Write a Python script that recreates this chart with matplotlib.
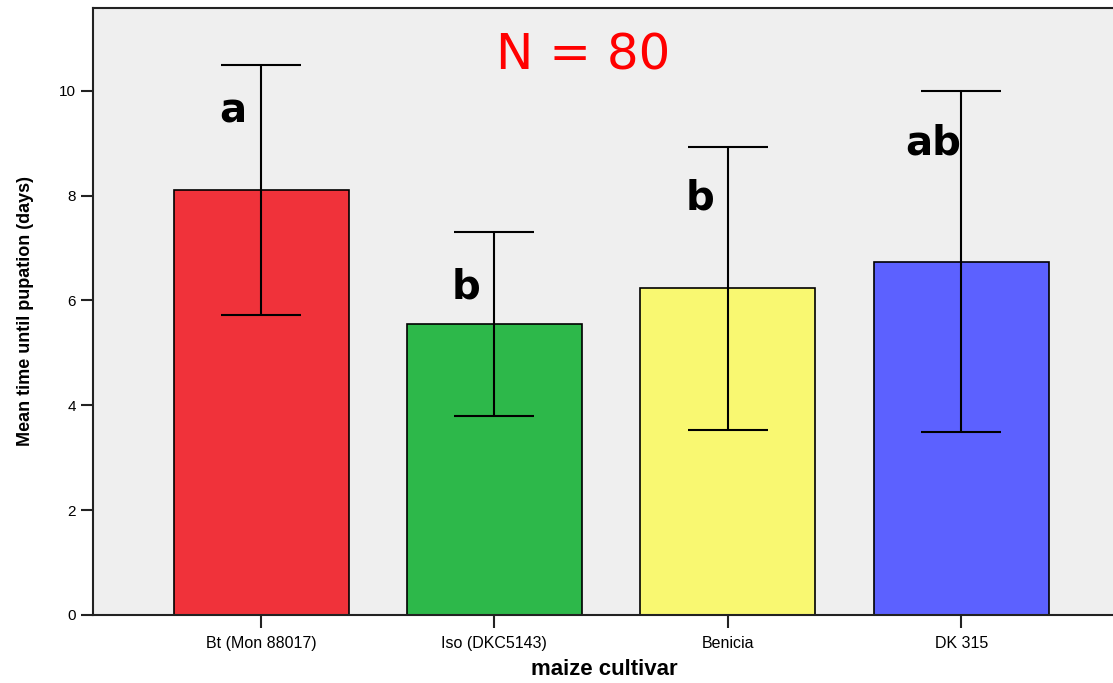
import matplotlib.pyplot as plt
import numpy as np

cultivars = ['Bt (Mon 88017)', 'Iso (DKC5143)', 'Benicia', 'DK 315']
means = [8.11, 5.55, 6.24, 6.74]
err_upper = [10.50, 7.31, 8.93, 10.00]
err_lower = [5.73, 3.80, 3.53, 3.49]
letters = ['a', 'b', 'b', 'ab']
letter_y = [9.6, 6.25, 7.95, 9.0]
colors = ['#f0323a', '#2db84a', '#f9f871', '#5c61ff']


def plot_bars(saveloc):
    fig = plt.figure(figsize=(11.13, 6.83), dpi=100)
    ax = fig.add_axes([93 / 1113, 68 / 683, 1.0 - 93 / 1113 + 0.002, 607 / 683])
    ax.set_facecolor('#efefef')

    x = np.arange(len(cultivars))
    means_a = np.array(means)
    yerr = [means_a - np.array(err_lower), np.array(err_upper) - means_a]
    ax.bar(x, means, width=0.75, color=colors, edgecolor='black', linewidth=1.2, zorder=2)
    ax.errorbar(x, means, yerr=yerr, fmt='none', ecolor='black', elinewidth=1.5,
                capsize=29, capthick=1.5, zorder=3)

    # significance letters
    for xi, lab, ly in zip(x, letters, letter_y):
        ax.text(xi - 0.12, ly, lab, ha='center', va='center', fontsize=29,
                fontweight='bold', family='DejaVu Sans', zorder=4)

    ax.text(1.38, 10.67, 'N = 80', color='#ff0000', fontsize=36, ha='center', va='center',
            family='DejaVu Sans')

    ax.set_xlim(-0.72, 3.66)
    ax.set_ylim(0, 11.58)
    ax.set_yticks(range(0, 11, 2))
    ax.set_xticks(x)
    ax.set_xticklabels(cultivars, family='Liberation Sans', fontsize=11.5)
    for t in ax.get_yticklabels():
        t.set_family('Liberation Sans')
        t.set_fontsize(11)
    ax.tick_params(axis='both', direction='out', length=9, width=1.5, color='#222222')
    ax.tick_params(axis='x', pad=6)

    for s in ['left', 'bottom', 'top']:
        ax.spines[s].set_linewidth(1.5)
        ax.spines[s].set_color('#222222')
    ax.spines['right'].set_visible(False)

    ax.set_xlabel('maize cultivar', family='Liberation Sans', fontsize=16,
                  fontweight='bold', labelpad=6)
    ax.set_ylabel('Mean time until pupation (days)', family='Liberation Sans', fontsize=13,
                  fontweight='bold', labelpad=18)

    plt.savefig(saveloc)
    plt.close()


def main():
    plot_bars('out.png')


if __name__ == "__main__":
    main()
